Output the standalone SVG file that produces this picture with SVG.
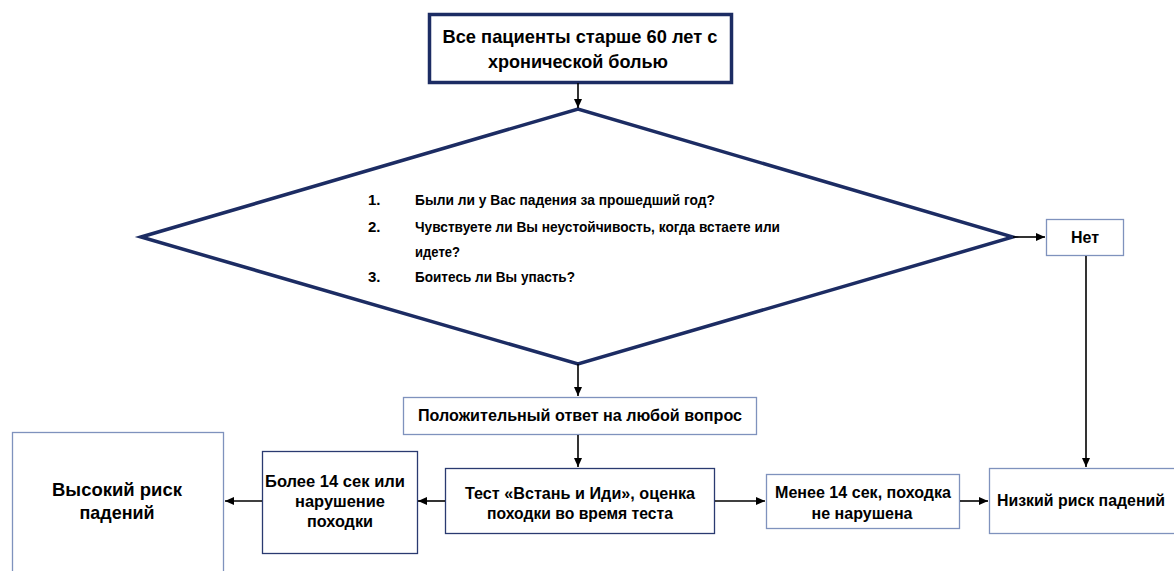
<svg xmlns="http://www.w3.org/2000/svg" width="1174" height="571" viewBox="0 0 1174 571">
<style>
text{font-family:"Liberation Sans",Arial,sans-serif;font-weight:bold;fill:#000}
.t18{font-size:19px}
.t16{font-size:17px}
.t14{font-size:15px}
.box{fill:#fff;stroke:#7f92bd;stroke-width:1.3}
.dark{stroke:#2a3a70}
.thick{fill:#fff;stroke:#1c2c63;stroke-width:3.5}
.conn line{stroke:#000;stroke-width:1.6;marker-end:url(#ah)}
.c{text-anchor:middle}
</style>
<defs>
<marker id="ah" markerUnits="userSpaceOnUse" markerWidth="10" markerHeight="8" refX="9" refY="4" orient="auto">
<path d="M0,0 L9,4 L0,8 Z" fill="#000"/>
</marker>
</defs>
<rect width="1174" height="571" fill="#fff"/>
<g id="start">
<rect class="thick" x="429.5" y="14.5" width="302" height="68"/>
<text class="t18 c" x="580" y="43" textLength="275" lengthAdjust="spacingAndGlyphs">Все пациенты старше 60 лет с</text>
<text class="t18 c" x="578" y="68" textLength="180" lengthAdjust="spacingAndGlyphs">хронической болью</text>
</g>
<g id="questions">
<polygon class="thick" points="141,237 578,109 1013,237 578,364" stroke-width="3"/>
<text class="t14" x="368" y="205">1.</text>
<text class="t14" x="415" y="205" textLength="300" lengthAdjust="spacingAndGlyphs">Были ли у Вас падения за прошедший год?</text>
<text class="t14" x="368" y="232">2.</text>
<text class="t14" x="415" y="232" textLength="365" lengthAdjust="spacingAndGlyphs">Чувствуете ли Вы неустойчивость, когда встаете или</text>
<text class="t14" x="415" y="257" textLength="45" lengthAdjust="spacingAndGlyphs">идете?</text>
<text class="t14" x="368" y="282">3.</text>
<text class="t14" x="415" y="282" textLength="160" lengthAdjust="spacingAndGlyphs">Боитесь ли Вы упасть?</text>
</g>
<g id="no">
<rect class="box" x="1046.5" y="219.5" width="77" height="36" stroke="#6a7ba8"/>
<text class="t16 c" x="1085" y="243" textLength="28" lengthAdjust="spacingAndGlyphs">Нет</text>
</g>
<g id="positive">
<rect class="box" x="403.5" y="397.5" width="353" height="37"/>
<text class="t16 c" x="580" y="421" textLength="324" lengthAdjust="spacingAndGlyphs">Положительный ответ на любой вопрос</text>
</g>
<g id="test">
<rect class="box dark" x="445.5" y="468.5" width="269" height="65"/>
<text class="t16 c" x="580" y="499" textLength="230" lengthAdjust="spacingAndGlyphs">Тест «Встань и Иди», оценка</text>
<text class="t16 c" x="580" y="519" textLength="186" lengthAdjust="spacingAndGlyphs">походки во время теста</text>
</g>
<g id="more14">
<rect class="box dark" x="262.5" y="451.5" width="155" height="102"/>
<text class="t16 c" x="335" y="487" textLength="140" lengthAdjust="spacingAndGlyphs">Более 14 сек или</text>
<text class="t16 c" x="340" y="507" textLength="90" lengthAdjust="spacingAndGlyphs">нарушение</text>
<text class="t16 c" x="340" y="527" textLength="66" lengthAdjust="spacingAndGlyphs">походки</text>
</g>
<g id="high">
<rect class="box" x="12.5" y="432.5" width="211" height="160" stroke="#4a5a8c"/>
<text class="t18 c" x="117" y="496" textLength="130" lengthAdjust="spacingAndGlyphs">Высокий риск</text>
<text class="t18 c" x="117" y="519" textLength="75" lengthAdjust="spacingAndGlyphs">падений</text>
</g>
<g id="less14">
<rect class="box" x="766.5" y="474.5" width="193" height="54"/>
<text class="t16 c" x="863" y="498" textLength="176" lengthAdjust="spacingAndGlyphs">Менее 14 сек, походка</text>
<text class="t16 c" x="862" y="519" textLength="101" lengthAdjust="spacingAndGlyphs">не нарушена</text>
</g>
<g id="low">
<rect class="box" x="989.5" y="468.5" width="200" height="65" stroke="#5a6fa0"/>
<text class="t16" x="997" y="506" textLength="168" lengthAdjust="spacingAndGlyphs">Низкий риск падений</text>
</g>
<g class="conn">
<line x1="578" y1="83" x2="578" y2="108"/>
<line x1="1013" y1="237" x2="1045" y2="237"/>
<line x1="578" y1="364" x2="578" y2="396"/>
<line x1="578" y1="435" x2="578" y2="467"/>
<line x1="445" y1="501" x2="418" y2="501"/>
<line x1="262" y1="501" x2="225" y2="501"/>
<line x1="715" y1="501" x2="765" y2="501"/>
<line x1="960" y1="501" x2="988" y2="501"/>
<line x1="1086" y1="256" x2="1086" y2="467"/>
</g>
</svg>
